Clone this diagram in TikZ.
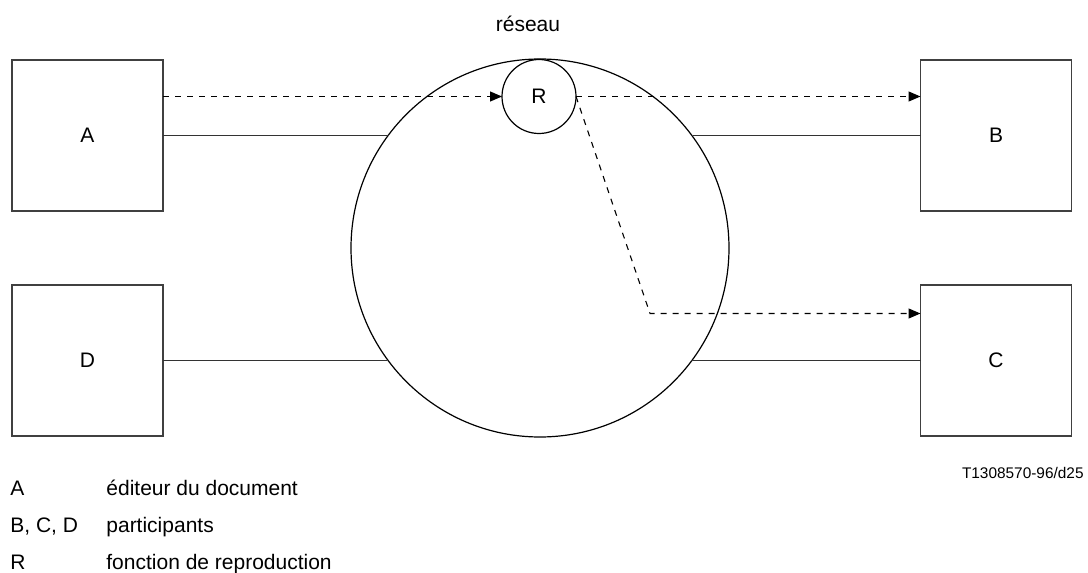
\documentclass[tikz,border=0pt]{standalone}
\usepackage{fontspec}
\setmainfont{Liberation Sans}
\usetikzlibrary{arrows.meta}
\tikzset{
	box/.style={draw=black!75, line width=0.65pt, minimum width=75.5pt, minimum height=75.5pt, inner sep=0pt, outer sep=0pt, font=\fontsize{10.5}{12}\selectfont},
	ring/.style={draw, circle, line width=0.6pt, inner sep=0pt, outer sep=0pt, font=\fontsize{10.5}{12}\selectfont},
	link/.style={line width=0.6pt, draw=black!80},
	flow/.style={line width=0.55pt, dash pattern=on 3pt off 3pt, -{Triangle[length=6pt, width=5pt]}},
	lbl/.style={font=\fontsize{10.5}{12}\selectfont, inner sep=0pt}
}
\begin{document}
\begin{tikzpicture}[x=0.5pt, y=-0.5pt]
			%%%%% START %%%%%
			\useasboundingbox (0, 0) rectangle (1088, 573);
			
			\node[box] (A) at (87.5, 135.5) {A};
			\node[box] (B) at (996, 135.5) {B};
			\node[box] (D) at (87.5, 360.5) {D};
			\node[box] (C) at (996, 360.5) {C};
			
			\node[ring, minimum size=189pt] (net) at (540, 248) {};
			\node[ring, minimum size=37pt] (R) at (539, 96.5) {R};
			\node[lbl] (netname) at (528, 24) {réseau};
			
			\draw[link] (A.east) -- (A.east -| net.143.47);
			\draw[link] (B.west -| net.36.53) -- (B.west);
			\draw[link] (D.east) -- (D.east -| net.216.53);
			\draw[link] (C.west -| net.323.47) -- (C.west);
			
			\draw[flow] (A.east |- R.west) -- (R.west);
			\draw[flow] (R.east) -- (B.west |- R.east);
			\coordinate (turn) at (650, 313.5);
			\draw[flow] (R.east) -- (turn) -- (C.west |- turn);
			
			\node[lbl, font=\fontsize{7.7}{9}\selectfont, anchor=east] (ref) at (1084, 473) {T1308570-96/d25};
			
			\node[lbl, anchor=base west] (keyA) at (10, 495) {A};
			\node[lbl, anchor=base west] (txtA) at (106, 495) {éditeur du document};
			\node[lbl, anchor=base west] (keyB) at (10, 532) {B, C, D};
			\node[lbl, anchor=base west] (txtB) at (106, 532) {participants};
			\node[lbl, anchor=base west] (keyR) at (10, 569) {R};
			\node[lbl, anchor=base west] (txtR) at (106, 569) {fonction de reproduction};
			%%%%% END %%%%%
\end{tikzpicture}
\end{document}
